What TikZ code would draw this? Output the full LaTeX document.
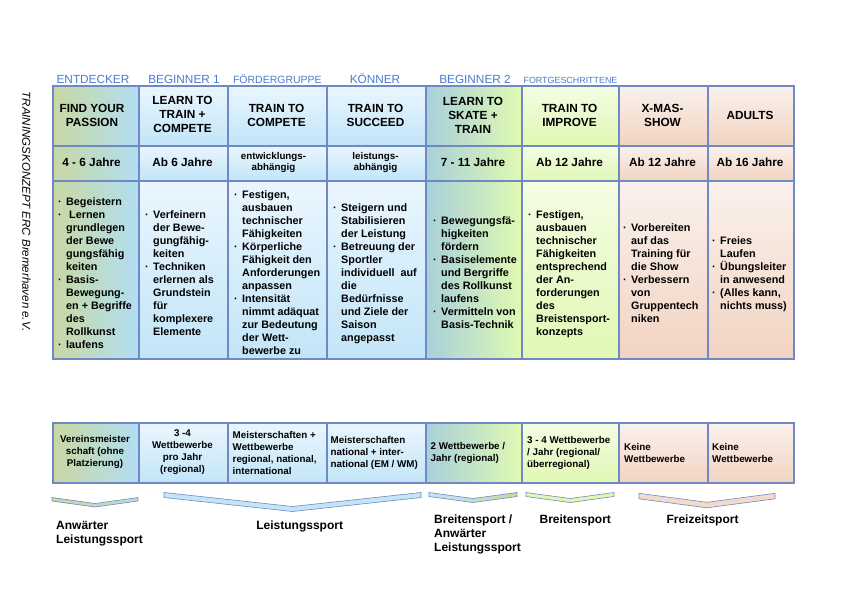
\documentclass[tikz,border=0pt]{standalone}
\usepackage{fontspec}
\setmainfont{Liberation Sans}
\definecolor{bd}{HTML}{7089C4}
\definecolor{hdr}{HTML}{4A7BCF}
\definecolor{cAL}{HTML}{C8D8A2}
\definecolor{cAR}{HTML}{B2DEF3}
\definecolor{bluT}{HTML}{EAF6FE}
\definecolor{bluB}{HTML}{C2E5F8}
\definecolor{cCL}{HTML}{A8D0DA}
\definecolor{cCR}{HTML}{E0F9B2}
\definecolor{grT}{HTML}{F4FDE4}
\definecolor{grB}{HTML}{E0F8B4}
\definecolor{peT}{HTML}{FAF1ED}
\definecolor{peB}{HTML}{F2D3C1}
\newcommand{\bu}{\makebox[8pt][l]{·}}
\newcommand{\cellnode}[6]{\node[cellbox,#6,minimum width={#4pt-#2pt},minimum height={#5pt-#3pt}] (#1) at (#2,#3) {};}
\newcommand{\chevron}[7]{%
  \path[chev,#7] (#2,#4) -- ({(#2+#3)/2},{#4+#6}) -- (#3,#4) -- (#3,{#4+#5}) -- ({(#2+#3)/2},{#4+#6+#5}) -- (#2,{#4+#5}) -- cycle;
  \coordinate (#1) at ({(#2+#3)/2},{#4+#6});}
\tikzset{
  cellbox/.style={draw=bd, line width=1.5pt, inner sep=0pt, anchor=north west},
  fA/.style={left color=cAL, right color=cAR},
  fB/.style={top color=bluT, bottom color=bluB},
  fC/.style={left color=cCL, right color=cCR},
  fD/.style={top color=grT, bottom color=grB},
  fE/.style={top color=peT, bottom color=peB},
  hlabel/.style={text=hdr, anchor=base, inner sep=0pt},
  ttl/.style={font=\fontsize{11.8}{14}\selectfont\bfseries, align=center, inner sep=0pt},
  agesm/.style={font=\fontsize{9.8}{11.5}\selectfont\bfseries, align=center, inner sep=0pt},
  det/.style={font=\fontsize{10.8}{13}\selectfont\bfseries, anchor=west, inner sep=0pt},
  comp/.style={font=\fontsize{9.8}{12}\selectfont\bfseries, inner sep=0pt},
  compl/.style={comp, anchor=west, align=left},
  sport/.style={font=\fontsize{12}{13.7}\selectfont\bfseries, inner sep=0pt},
  chev/.style={draw=bd, line width=0.6pt},
}
\begin{document}
\begin{tikzpicture}[x=1pt,y=-1pt]
\useasboundingbox (0,0) rectangle (842,595);
\fill[white] (0,0) rectangle (842,595);

% vertical title
\node[rotate=-90, font=\fontsize{11.5}{14}\selectfont\itshape, inner sep=0pt] (title) at (26.5,211.5) {TRAININGSKONZEPT ERC Bremerhaven e.V.};

% header labels
\node[hlabel, font=\fontsize{11.8}{14}\selectfont] (h1) at (93,83) {ENTDECKER};
\node[hlabel, font=\fontsize{11.8}{14}\selectfont] (h2) at (184,83) {BEGINNER 1};
\node[hlabel, font=\fontsize{10.5}{13}\selectfont] (h3) at (277.4,83) {FÖRDERGRUPPE};
\node[hlabel, font=\fontsize{11.8}{14}\selectfont] (h4) at (375,83) {KÖNNER};
\node[hlabel, font=\fontsize{11.8}{14}\selectfont] (h5) at (475,83) {BEGINNER 2};
\node[hlabel, font=\fontsize{8.9}{11}\selectfont] (h6) at (570.5,83) {FORTGESCHRITTENE};

% row 1
\cellnode{a1}{52}{85}{138}{145}{fA}
\cellnode{a2}{138}{85}{227}{145}{fB}
\cellnode{a3}{227}{85}{326}{145}{fB}
\cellnode{a4}{326}{85}{425}{145}{fB}
\cellnode{a5}{425}{85}{521}{145}{fC}
\cellnode{a6}{521}{85}{618}{145}{fD}
\cellnode{a7}{618}{85}{707}{145}{fE}
\cellnode{a8}{707}{85}{793}{145}{fE}
% row 2
\cellnode{b1}{52}{145}{138}{180}{fA}
\cellnode{b2}{138}{145}{227}{180}{fB}
\cellnode{b3}{227}{145}{326}{180}{fB}
\cellnode{b4}{326}{145}{425}{180}{fB}
\cellnode{b5}{425}{145}{521}{180}{fC}
\cellnode{b6}{521}{145}{618}{180}{fD}
\cellnode{b7}{618}{145}{707}{180}{fE}
\cellnode{b8}{707}{145}{793}{180}{fE}
% row 3
\cellnode{c1}{52}{180}{138}{358}{fA}
\cellnode{c2}{138}{180}{227}{358}{fB}
\cellnode{c3}{227}{180}{326}{358}{fB}
\cellnode{c4}{326}{180}{425}{358}{fB}
\cellnode{c5}{425}{180}{521}{358}{fC}
\cellnode{c6}{521}{180}{618}{358}{fD}
\cellnode{c7}{618}{180}{707}{358}{fE}
\cellnode{c8}{707}{180}{793}{358}{fE}
% row 4
\cellnode{d1}{52}{422}{138}{482}{fA}
\cellnode{d2}{138}{422}{227}{482}{fB}
\cellnode{d3}{227}{422}{326}{482}{fB}
\cellnode{d4}{326}{422}{425}{482}{fB}
\cellnode{d5}{425}{422}{521}{482}{fC}
\cellnode{d6}{521}{422}{618}{482}{fD}
\cellnode{d7}{618}{422}{707}{482}{fE}
\cellnode{d8}{707}{422}{793}{482}{fE}

% row 1 texts
\node[ttl] (ta1) at (92,115.5) {FIND YOUR\\PASSION};
\node[ttl] (ta2) at (182.5,114.5) {LEARN TO\\TRAIN +\\COMPETE};
\node[ttl] (ta3) at (276.5,115.5) {TRAIN TO\\COMPETE};
\node[ttl] (ta4) at (375.5,115.5) {TRAIN TO\\SUCCEED};
\node[ttl] (ta5) at (473,115) {LEARN TO\\SKATE +\\TRAIN};
\node[ttl] (ta6) at (569.5,115.5) {TRAIN TO\\IMPROVE};
\node[ttl] (ta7) at (662.5,115.5) {X-MAS-\\SHOW};
\node[ttl] (ta8) at (750,115.5) {ADULTS};

% row 2 texts
\node[ttl] (tb1) at (91.5,162.5) {4 - 6 Jahre};
\node[ttl] (tb2) at (182.5,162.5) {Ab 6 Jahre};
\node[agesm] (tb3) at (273.5,162.5) {entwicklungs-\\abhängig};
\node[agesm] (tb4) at (375.5,162.5) {leistungs-\\abhängig};
\node[ttl] (tb5) at (473,162.5) {7 - 11 Jahre};
\node[ttl] (tb6) at (569.5,162.5) {Ab 12 Jahre};
\node[ttl] (tb7) at (662.5,162.5) {Ab 12 Jahre};
\node[ttl] (tb8) at (750,162.5) {Ab 16 Jahre};

% row 3 texts
\node[det] (tc1) at (58,274) {\begin{tabular}{@{}l@{}l@{}}
\bu & Begeistern\\ \bu & \ Lernen\\ & grundlegen\\ & der Bewe\\ & gungsfähig\\ & keiten\\
\bu & Basis-\\ & Bewegung-\\ & en + Begriffe\\ & des\\ & Rollkunst\\ \bu & laufens\end{tabular}};
\node[det] (tc2) at (145,274) {\begin{tabular}{@{}l@{}l@{}}
\bu & Verfeinern\\ & der Bewe-\\ & gungfähig-\\ & keiten\\
\bu & Techniken\\ & erlernen als\\ & Grundstein\\ & für\\ & komplexere\\ & Elemente\end{tabular}};
\node[det] (tc3) at (234,274) {\begin{tabular}{@{}l@{}l@{}}
\bu & Festigen,\\ & ausbauen\\ & technischer\\ & Fähigkeiten\\
\bu & Körperliche\\ & Fähigkeit den\\ & Anforderungen\\ & anpassen\\
\bu & Intensität\\ & nimmt adäquat\\ & zur Bedeutung\\ & der Wett-\\ & bewerbe zu\end{tabular}};
\node[det] (tc4) at (333,274) {\begin{tabular}{@{}l@{}l@{}}
\bu & Steigern und\\ & Stabilisieren\\ & der Leistung\\
\bu & Betreuung der\\ & Sportler\\ & individuell\ \ auf\\ & die\\ & Bedürfnisse\\ & und Ziele der\\ & Saison\\ & angepasst\end{tabular}};
\node[det] (tc5) at (433,274) {\begin{tabular}{@{}l@{}l@{}}
\bu & Bewegungsfä-\\ & higkeiten\\ & fördern\\
\bu & Basiselemente\\ & und Bergriffe\\ & des Rollkunst\\ & laufens\\
\bu & Vermitteln von\\ & Basis-Technik\end{tabular}};
\node[det] (tc6) at (528,274) {\begin{tabular}{@{}l@{}l@{}}
\bu & Festigen,\\ & ausbauen\\ & technischer\\ & Fähigkeiten\\ & entsprechend\\ & der An-\\ & forderungen\\ & des\\ & Breistensport-\\ & konzepts\end{tabular}};
\node[det] (tc7) at (623,274) {\begin{tabular}{@{}l@{}l@{}}
\bu & Vorbereiten\\ & auf das\\ & Training für\\ & die Show\\
\bu & Verbessern\\ & von\\ & Gruppentech\\ & niken\end{tabular}};
\node[det] (tc8) at (712,274) {\begin{tabular}{@{}l@{}l@{}}
\bu & Freies\\ & Laufen\\ \bu & Übungsleiter\\ & in anwesend\\
\bu & (Alles kann,\\ & nichts muss)\end{tabular}};

% row 4 texts
\node[comp, align=center] (td1) at (95,452) {Vereinsmeister\\schaft (ohne\\Platzierung)};
\node[comp, align=center] (td2) at (182.5,452) {3 -4\\Wettbewerbe\\pro Jahr\\(regional)};
\node[compl] (td3) at (232.5,452.5) {Meisterschaften +\\Wettbewerbe\\regional, national,\\international};
\node[compl] (td4) at (330.5,452.5) {Meisterschaften\\national + inter-\\national (EM / WM)};
\node[compl] (td5) at (430.5,452.5) {2 Wettbewerbe /\\Jahr (regional)};
\node[compl] (td6) at (527,452.5) {3 - 4 Wettbewerbe\\/ Jahr (regional/\\überregional)};
\node[compl] (td7) at (624,452.5) {Keine\\Wettbewerbe};
\node[compl] (td8) at (712,452.5) {Keine\\Wettbewerbe};

% chevrons
\chevron{v1}{52}{138}{497.5}{3.5}{6}{left color=cAL, right color=cAR!70!cAL}
\chevron{v2}{164}{421}{492.5}{5}{14}{fill=bluB}
\chevron{v3}{429}{517}{492.5}{4}{6}{left color=bluB, right color=cAL}
\chevron{v4}{526}{614}{492.5}{4}{6}{fill=grB}
\chevron{v5}{639}{775}{493.3}{5.5}{9}{fill=peB!85!white}

% sport labels
\node[sport, anchor=base west] (s1) at (56,529.6) {\begin{tabular}[t]{@{}l@{}}Anwärter\\Leistungssport\end{tabular}};
\node[sport, anchor=base] (s2) at (299.7,529.6) {Leistungssport};
\node[sport, anchor=base west] (s3) at (434,523.6) {\begin{tabular}[t]{@{}l@{}}Breitensport /\\Anwärter\\Leistungssport\end{tabular}};
\node[sport, anchor=base] (s4) at (575.3,523.6) {Breitensport};
\node[sport, anchor=base] (s5) at (702.5,523.6) {Freizeitsport};
\end{tikzpicture}
\end{document}
